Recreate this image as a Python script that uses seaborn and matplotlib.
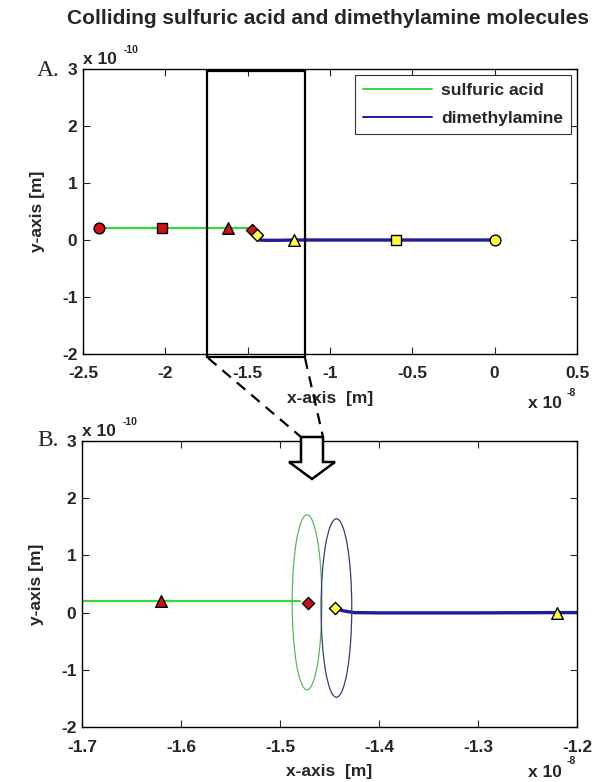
import numpy as np
import pandas as pd
import seaborn as sns
import matplotlib.pyplot as plt
from matplotlib.patches import Ellipse, Rectangle, Polygon
from matplotlib.lines import Line2D

# trajectories (x in 1e-8 m, y in 1e-10 m)
acid_x = [-2.40, -2.02, -1.62, -1.48]
acid_y = [0.21, 0.21, 0.21, 0.21]
amine_x = [-1.444, -1.436, -1.425, -1.40, -1.30, -1.22, -0.60, 0.0]
amine_y = [0.08, 0.03, 0.0, -0.005, -0.005, 0.0, 0.0, 0.0]

# snapshot markers
acid_mx = [-2.40, -2.02, -1.62, -1.472]
acid_my = [0.21, 0.21, 0.21, 0.17]
amine_mx = [-1.444, -1.22, -0.60, 0.0]
amine_my = [0.08, 0.0, 0.0, 0.0]
shapes = ["circle", "square", "triangle", "diamond"]
amine_shapes = ["diamond", "triangle", "square", "circle"]

# interaction ellipses in zoomed panel: center x, center y, width, height
ell_x = [-1.4727, -1.443]
ell_y = [0.18, 0.08]
ell_w = [0.030, 0.031]
ell_h = [3.06, 3.12]

green = "#3cd23c"
blue = "#1c1c9c"
red = "#cc1414"
yellow = "#ffff40"

sns.set_style("ticks")
plt.rcParams["font.family"] = ["Liberation Sans", "DejaVu Sans"]
plt.rcParams["font.weight"] = "bold"

W, H = 598, 782
fig = plt.figure(figsize=(W / 100, H / 100), dpi=100)

ax1 = fig.add_axes([83 / W, 1 - 354 / H, 494 / W, 285 / H])
ax2 = fig.add_axes([82 / W, 1 - 727 / H, 495 / W, 286 / H])

acid = pd.DataFrame({"x": acid_x, "y": acid_y})
amine = pd.DataFrame({"x": amine_x, "y": amine_y})
acid_m = pd.DataFrame({"x": acid_mx, "y": acid_my, "shape": shapes})
amine_m = pd.DataFrame({"x": amine_mx, "y": amine_my, "shape": amine_shapes})
mk = {"circle": "o", "square": "s", "triangle": "^", "diamond": "D"}
sizes = {"circle": 60, "square": 55, "triangle": 70, "diamond": 38}

for ax, off in [(ax1, -0.175), (ax2, -0.158)]:
    sns.lineplot(data=acid, x="x", y="y", ax=ax, color=green, lw=1.6,
                 sort=False, label="sulfuric acid", zorder=2)
    sns.lineplot(data=amine, x="x", y="y", ax=ax, color=blue, lw=2.4,
                 sort=False, label="dimethylamine", zorder=2)
    for df, col in [(acid_m, red), (amine_m, yellow)]:
        for shp, sub in df.groupby("shape"):
            sns.scatterplot(data=sub, x="x", y="y", ax=ax, marker=mk[shp],
                            s=sizes[shp], color=col, edgecolor="black",
                            linewidth=1.0, zorder=4, legend=False)
    ax.set_ylim(-2, 3)
    ax.set_yticks([-2, -1, 0, 1, 2, 3])
    ax.set_yticklabels(["-2", "-1", "0", "1", "2", "3"])
    ax.tick_params(direction="in", top=True, right=True, length=5,
                   width=0.8, labelsize=12.5, pad=4)
    ax.tick_params(axis="x", pad=9)
    for s in ax.spines.values():
        s.set_linewidth(1.0)
        s.set_color("black")
    ax.set_xlabel("x-axis  [m]", fontsize=12.5, fontweight="bold", labelpad=7)
    ax.set_ylabel("y-axis [m]", fontsize=12.5, fontweight="bold", labelpad=12)
    ax.text(0.0, 1.008, "x 10", transform=ax.transAxes, fontsize=12.5,
            fontweight="bold", ha="left", va="bottom")
    ax.text(0.083, 1.05, "-10", transform=ax.transAxes, fontsize=7.5,
            fontweight="bold", ha="left", va="bottom")
    ax.text(0.9, off, "x 10", transform=ax.transAxes, fontsize=12.5,
            fontweight="bold", ha="left", va="center")
    ax.text(0.98, off + 0.038, "-8", transform=ax.transAxes, fontsize=7.5,
            fontweight="bold", ha="left", va="center")

ax1.set_xlim(-2.5, 0.5)
ax1.set_xticks([-2.5, -2, -1.5, -1, -0.5, 0, 0.5])
ax1.set_xticklabels(["-2.5", "-2", "-1.5", "-1", "-0.5", "0", "0.5"])
leg = ax1.legend(loc="upper right", fontsize=12.5, frameon=True, fancybox=False,
                 edgecolor="black", borderpad=0.45, handlelength=4.0,
                 borderaxespad=0.35, labelspacing=0.75, handletextpad=0.5)
leg.get_frame().set_linewidth(0.8)
for t in leg.get_texts():
    t.set_fontweight("bold")
for ln in leg.get_lines():
    ln.set_linewidth(1.4)

ax2.set_xlim(-1.7, -1.2)
ax2.set_xticks([-1.7, -1.6, -1.5, -1.4, -1.3, -1.2])
ax2.set_xticklabels(["-1.7", "-1.6", "-1.5", "-1.4", "-1.3", "-1.2"])
ax2.get_legend().remove()

for cx, cy, w, h, c in zip(ell_x, ell_y, ell_w, ell_h, ["#55bb55", "#3a3a70"]):
    ax2.add_patch(Ellipse((cx, cy), w, h, fill=False, ec=c, lw=0.9, zorder=3))

# zoom box on panel A
ax1.add_patch(Rectangle((-1.747, -2.05), 0.595, 5.015, fill=False,
                        ec="black", lw=1.6, clip_on=False, zorder=5))


def fp(x, y):
    return (x / W, 1 - y / H)


for p0, p1 in [((208, 358), (301, 437)), ((305, 358), (323, 437))]:
    a, b = fp(*p0), fp(*p1)
    fig.add_artist(Line2D([a[0], b[0]], [a[1], b[1]], transform=fig.transFigure,
                          color="black", lw=1.6, ls=(0, (5, 3.5))))

arrow = [(301, 437), (323, 437), (323, 462), (335, 462), (312, 479),
         (289, 462), (301, 462)]
fig.add_artist(Polygon([fp(*p) for p in arrow], closed=True, fill=True,
                       fc="white", ec="black", lw=1.8,
                       transform=fig.transFigure, zorder=6))

fig.text(328 / W, 1 - 18 / H, "Colliding sulfuric acid and dimethylamine molecules",
         ha="center", va="center", fontsize=15, fontweight="bold")
fig.text(37 / W, 1 - 70 / H, "A.", family=["Liberation Serif"], fontsize=17,
         fontweight="normal", ha="left", va="center")
fig.text(37 / W, 1 - 440 / H, "B.", family=["Liberation Serif"], fontsize=17,
         fontweight="normal", ha="left", va="center")

fig.savefig("out.png", dpi=100)
